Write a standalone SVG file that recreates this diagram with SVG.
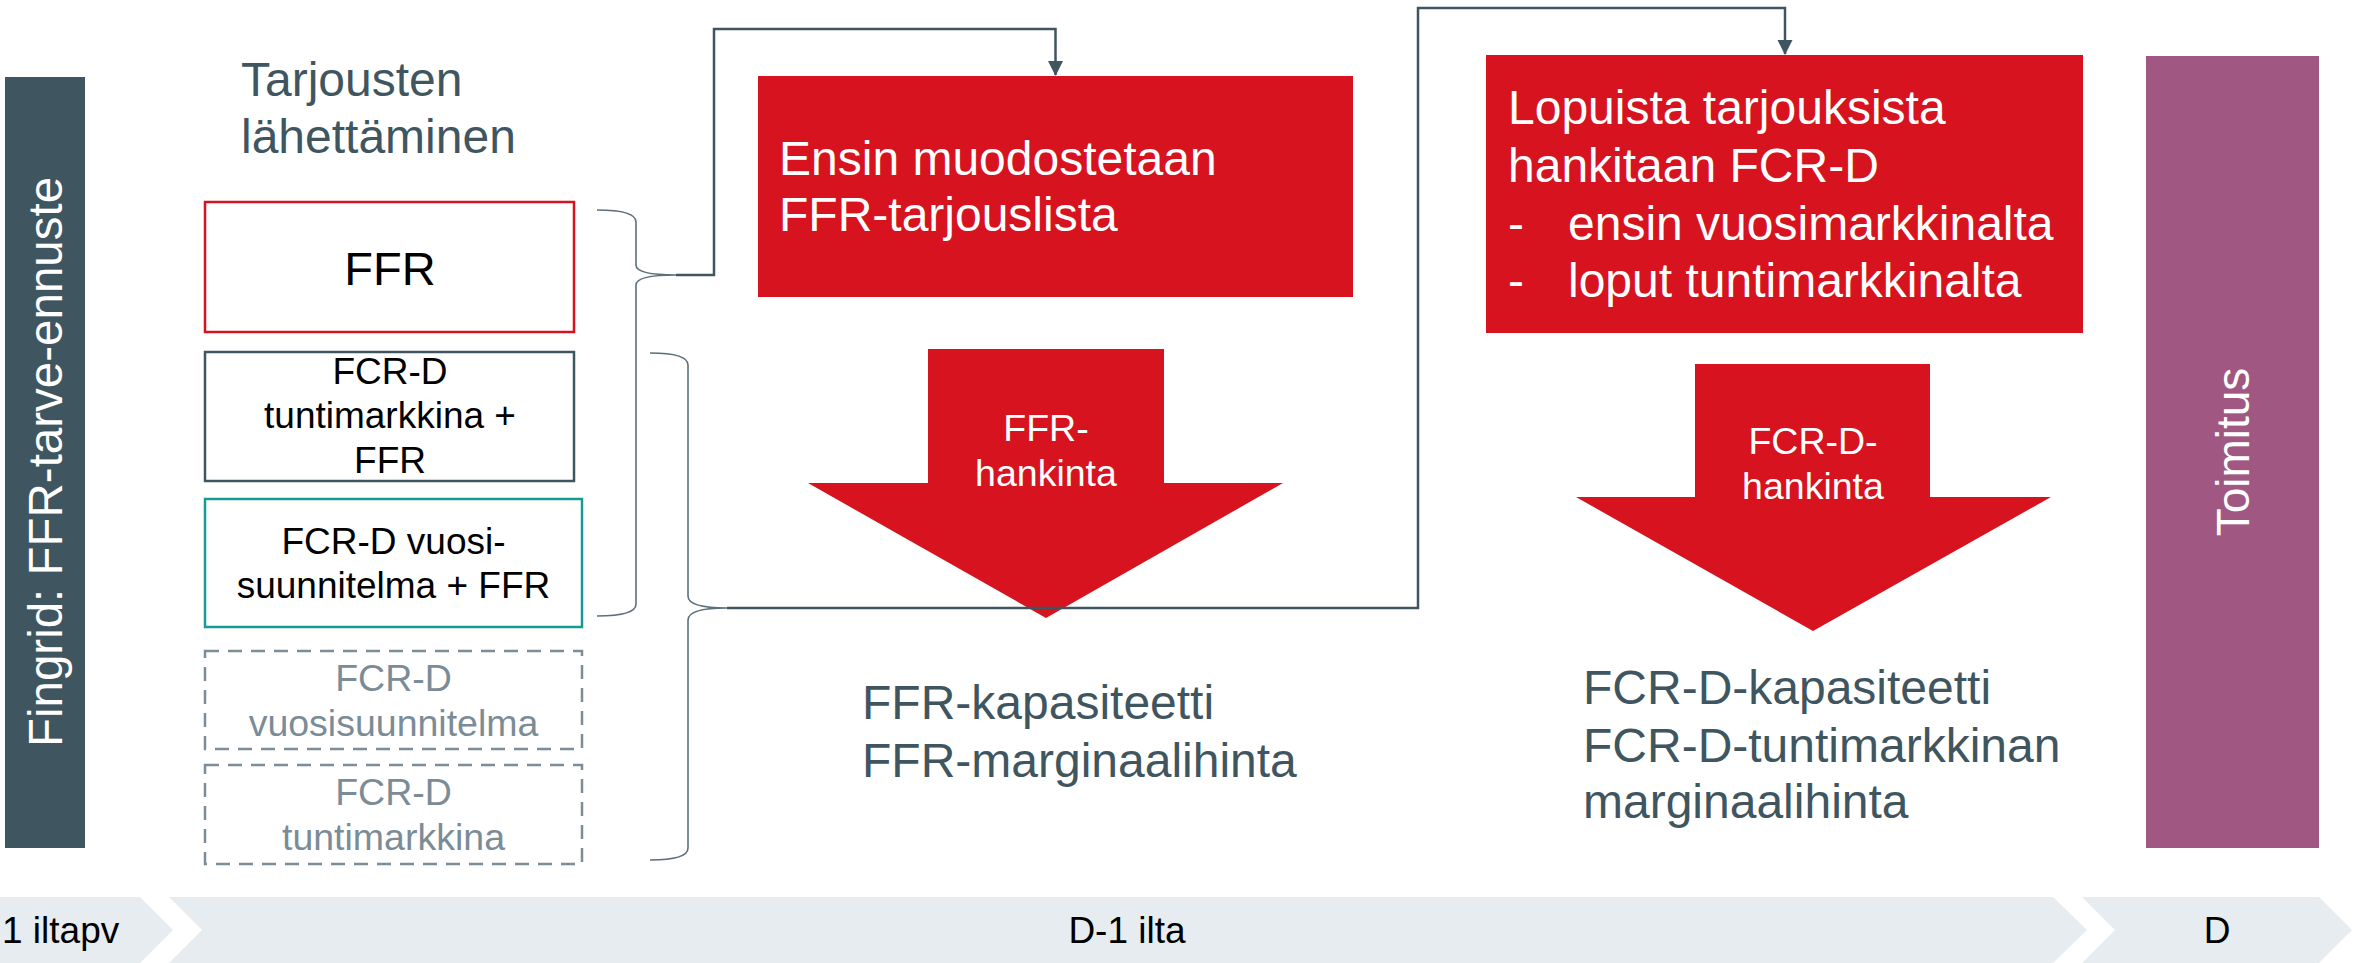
<svg xmlns="http://www.w3.org/2000/svg" width="2367" height="963" viewBox="0 0 2367 963">
<style>
text{font-family:"Liberation Sans",Arial,sans-serif}
.h{font-size:48px;fill:#3f5661}
.w{font-size:48px;fill:#ffffff}
.wa{font-size:37.5px;fill:#ffffff;text-anchor:middle}
.b{font-size:37px;fill:#000000;text-anchor:middle}
.g{font-size:37.5px;fill:#7b8c97;text-anchor:middle}
.t{font-size:37px;fill:#000000}
.red{fill:#d6131f}
.brace{fill:none;stroke:#5d6f7a;stroke-width:1.6}
.conn{fill:none;stroke:#3f5661;stroke-width:2.5}
.dash{fill:#ffffff;stroke:#7d8d98;stroke-width:2.5;stroke-dasharray:14 9}
</style>
<defs>
<marker id="ah" markerWidth="6.2" markerHeight="6.2" refX="5.8" refY="3.1" orient="auto" markerUnits="strokeWidth">
<path d="M0,0 L6.2,3.1 L0,6.2 Z" fill="#3f5661"/>
</marker>
</defs>
<rect width="2367" height="963" fill="#ffffff"/>

<g id="timeline">
<polygon points="0,897 140,897 173,930 140,963 0,963" fill="#e7ecf0"/>
<polygon points="169,897 2053,897 2087,930 2053,963 169,963 202,930" fill="#e7ecf0"/>
<polygon points="2082,897 2319,897 2352,930 2319,963 2082,963 2115,930" fill="#e7ecf0"/>
<text class="t" x="2" y="943">1 iltapv</text>
<text class="t" x="1127" y="943" text-anchor="middle">D-1 ilta</text>
<text class="t" x="2217" y="943" text-anchor="middle">D</text>
</g>

<g id="forecast">
<rect x="5" y="77" width="80" height="771" fill="#3f5661"/>
<text transform="translate(62,462) rotate(-90)" text-anchor="middle" font-size="47.5" fill="#ffffff">Fingrid: FFR-tarve-ennuste</text>
</g>

<g id="title">
<text class="h" x="241" y="96">Tarjousten</text>
<text class="h" x="241" y="153">lähettäminen</text>
</g>

<g id="box-ffr">
<rect x="205" y="202" width="369" height="130" fill="#ffffff" stroke="#d6131f" stroke-width="2.5"/>
<text x="390" y="285" text-anchor="middle" font-size="47" fill="#000000">FFR</text>
</g>

<g id="box-fcrd-tunti-ffr">
<rect x="205" y="352" width="369" height="129" fill="#ffffff" stroke="#3f5661" stroke-width="2.5"/>
<text class="b" x="390" y="384">FCR-D</text>
<text class="b" x="390" y="428">tuntimarkkina +</text>
<text class="b" x="390" y="473">FFR</text>
</g>

<g id="box-fcrd-vuosi-ffr">
<rect x="205" y="499" width="377" height="128" fill="#ffffff" stroke="#169b94" stroke-width="2.5"/>
<text class="b" x="393.5" y="554">FCR-D vuosi-</text>
<text class="b" x="393.5" y="598">suunnitelma + FFR</text>
</g>

<g id="box-fcrd-vuosi">
<rect class="dash" x="205" y="651" width="377" height="98"/>
<text class="g" x="393.5" y="691">FCR-D</text>
<text class="g" x="393.5" y="736">vuosisuunnitelma</text>
</g>

<g id="box-fcrd-tunti">
<rect class="dash" x="205" y="765" width="377" height="99"/>
<text class="g" x="393.5" y="805">FCR-D</text>
<text class="g" x="393.5" y="850">tuntimarkkina</text>
</g>

<g id="ffr-list">
<rect class="red" x="758" y="76" width="595" height="221"/>
<text class="w" x="779" y="175">Ensin muodostetaan</text>
<text class="w" x="779" y="231">FFR-tarjouslista</text>
</g>

<g id="ffr-procurement">
<polygon class="red" points="928,349 1164,349 1164,483 1283,483 1046,618 808,483 928,483"/>
<text class="wa" x="1046" y="441">FFR-</text>
<text class="wa" x="1046" y="486">hankinta</text>
</g>

<g id="ffr-result">
<text class="h" x="862" y="719">FFR-kapasiteetti</text>
<text class="h" x="862" y="777">FFR-marginaalihinta</text>
</g>

<g id="fcrd-list">
<rect class="red" x="1486" y="55" width="597" height="278"/>
<text class="w" x="1508" y="124">Lopuista tarjouksista</text>
<text class="w" x="1508" y="182">hankitaan FCR-D</text>
<text class="w" x="1508" y="240">-</text>
<text class="w" x="1568" y="240">ensin vuosimarkkinalta</text>
<text class="w" x="1508" y="297">-</text>
<text class="w" x="1568" y="297">loput tuntimarkkinalta</text>
</g>

<g id="fcrd-procurement">
<polygon class="red" points="1695,364 1930,364 1930,497 2051,497 1813,631 1576,497 1695,497"/>
<text class="wa" x="1813" y="454">FCR-D-</text>
<text class="wa" x="1813" y="499">hankinta</text>
</g>

<g id="fcrd-result">
<text class="h" x="1583" y="704">FCR-D-kapasiteetti</text>
<text class="h" x="1583" y="762">FCR-D-tuntimarkkinan</text>
<text class="h" x="1583" y="818">marginaalihinta</text>
</g>

<g id="delivery">
<rect x="2146" y="56" width="173" height="792" fill="#a05882"/>
<text transform="translate(2249,452) rotate(-90)" text-anchor="middle" font-size="46" fill="#ffffff">Toimitus</text>
</g>

<g id="connectors">
<path class="brace" d="M597,210 Q636,210 636,222 L636,265 Q636,275 676,275 Q636,275 636,285 L636,604 Q636,616 597,616"/>
<path class="brace" d="M650,353 Q688,353 688,365 L688,596 Q688,608 727,608 Q688,608 688,620 L688,848 Q688,860 650,860"/>
<path class="conn" d="M676,275 L714,275 L714,29 L1055.5,29 L1055.5,75" marker-end="url(#ah)"/>
<path class="conn" d="M727,608 L1418,608 L1418,8 L1785,8 L1785,54" marker-end="url(#ah)"/>
</g>
</svg>
